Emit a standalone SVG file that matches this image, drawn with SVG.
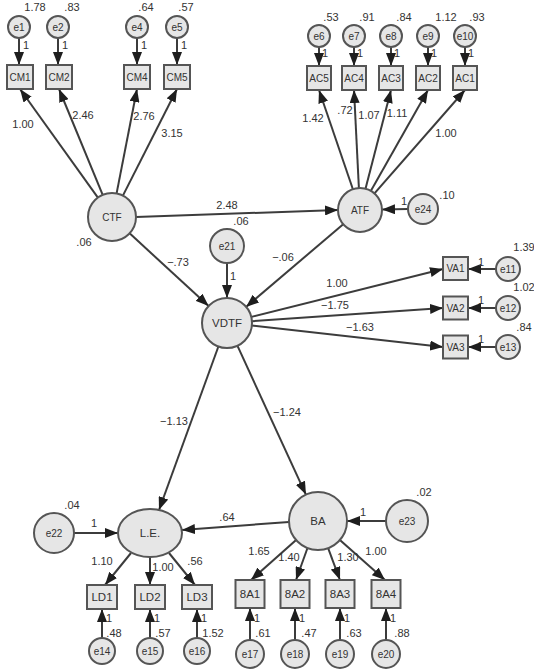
<svg xmlns="http://www.w3.org/2000/svg" width="534" height="671" viewBox="0 0 534 671">
<style>
.n{fill:#e6e6e6;stroke:#555;stroke-width:2}
.t{font-family:"Liberation Sans",Arial,sans-serif;font-size:10px;fill:#333;text-anchor:middle}
.big{font-size:11.5px}
.l{font-family:"Liberation Sans",Arial,sans-serif;font-size:11px;fill:#333;text-anchor:middle}
.c line{stroke:#3c3c3c;stroke-width:2;marker-end:url(#ah)}
</style>
<defs>
<marker id="ah" markerUnits="userSpaceOnUse" markerWidth="13" markerHeight="10" refX="13" refY="5" orient="auto"><path d="M0,0 L13,5 L0,10 z" fill="#1e1e1e"/></marker>
</defs>
<rect width="534" height="671" fill="#fff"/>

<g id="connectors" class="c">
<!-- e -> CM -->
<line x1="19" y1="38" x2="19" y2="65"/>
<line x1="58" y1="38" x2="58" y2="65"/>
<line x1="137" y1="38" x2="137" y2="65"/>
<line x1="177" y1="38" x2="177" y2="65"/>
<!-- CTF -> CM -->
<line x1="97.9" y1="197.6" x2="20" y2="89"/>
<line x1="102.7" y1="194.9" x2="59" y2="89"/>
<line x1="116.6" y1="193.4" x2="137" y2="89"/>
<line x1="122.9" y1="195.6" x2="177" y2="89"/>
<!-- e -> AC -->
<line x1="319" y1="47" x2="319" y2="66"/>
<line x1="354" y1="47" x2="354" y2="66"/>
<line x1="391" y1="47" x2="391" y2="66"/>
<line x1="428" y1="47" x2="428" y2="66"/>
<line x1="465" y1="47" x2="465" y2="66"/>
<!-- ATF -> AC -->
<line x1="352.9" y1="189.2" x2="319" y2="90"/>
<line x1="358.9" y1="188" x2="354" y2="90"/>
<line x1="365.5" y1="188.7" x2="391" y2="90"/>
<line x1="370.8" y1="190.9" x2="428" y2="90"/>
<line x1="374.5" y1="193.4" x2="465" y2="90"/>
<!-- CTF -> ATF, e24 -> ATF -->
<line x1="136" y1="217" x2="338" y2="210"/>
<line x1="408" y1="209" x2="382" y2="209.5"/>
<!-- to VDTF -->
<line x1="129.6" y1="233.3" x2="208.6" y2="306.1"/>
<line x1="343.2" y1="224.2" x2="246" y2="307"/>
<line x1="227" y1="263" x2="227" y2="298"/>
<!-- VDTF -> VA -->
<line x1="251.3" y1="316.9" x2="443" y2="269"/>
<line x1="251.9" y1="321.2" x2="443" y2="308"/>
<line x1="251.9" y1="325.6" x2="443" y2="347"/>
<!-- e -> VA -->
<line x1="496" y1="269" x2="468" y2="269"/>
<line x1="496" y1="308" x2="468" y2="308"/>
<line x1="496" y1="347" x2="468" y2="347"/>
<!-- VDTF -> L.E., BA -->
<line x1="218.4" y1="346.5" x2="159" y2="510"/>
<line x1="237.4" y1="345.7" x2="305.9" y2="494.6"/>
<!-- e22 -> L.E., BA -> L.E., e23 -> BA -->
<line x1="74" y1="533" x2="118" y2="533"/>
<line x1="289" y1="522" x2="182" y2="530"/>
<line x1="386" y1="521" x2="347" y2="521"/>
<!-- L.E. -> LD -->
<line x1="131" y1="553" x2="105" y2="585"/>
<line x1="150" y1="557" x2="150" y2="585"/>
<line x1="169" y1="553" x2="195" y2="585"/>
<!-- BA -> 8A -->
<line x1="296.1" y1="540" x2="251" y2="580"/>
<line x1="307.5" y1="548" x2="296" y2="580"/>
<line x1="328.1" y1="548.2" x2="340" y2="580"/>
<line x1="339.9" y1="540" x2="385" y2="580"/>
<!-- e -> LD -->
<line x1="102" y1="638" x2="102" y2="609"/>
<line x1="150" y1="638" x2="150" y2="609"/>
<line x1="197" y1="638" x2="197" y2="609"/>
<!-- e -> 8A -->
<line x1="250" y1="640" x2="250" y2="608"/>
<line x1="295" y1="640" x2="295" y2="608"/>
<line x1="340" y1="640" x2="340" y2="608"/>
<line x1="386" y1="640" x2="386" y2="608"/>
</g>

<g id="labels" class="l">
<text x="35" y="11">1.78</text><text x="72" y="11">.83</text><text x="146" y="11">.64</text><text x="186" y="11">.57</text>
<text x="26" y="49">1</text><text x="65" y="49">1</text><text x="144" y="49">1</text><text x="184" y="49">1</text>
<text x="23" y="128">1.00</text><text x="83" y="119">2.46</text><text x="144" y="120">2.76</text><text x="172" y="137">3.15</text>
<text x="331" y="21">.53</text><text x="367" y="21">.91</text><text x="404" y="21">.84</text><text x="446" y="21">1.12</text><text x="477" y="21">.93</text>
<text x="325" y="57">1</text><text x="360" y="57">1</text><text x="397" y="57">1</text><text x="434" y="57">1</text><text x="471" y="57">1</text>
<text x="313" y="122">1.42</text><text x="345" y="114">.72</text><text x="369" y="119">1.07</text><text x="397" y="117">1.11</text><text x="446" y="137">1.00</text>
<text x="227" y="209">2.48</text><text x="241" y="225">.06</text><text x="84" y="246">.06</text>
<text x="178" y="266">−.73</text><text x="233" y="280">1</text>
<text x="447" y="199">.10</text><text x="404" y="205">1</text><text x="283" y="261">−.06</text>
<text x="337" y="287">1.00</text><text x="335" y="309">−1.75</text><text x="360" y="331">−1.63</text>
<text x="481" y="266">1</text><text x="481" y="304">1</text><text x="481" y="343">1</text>
<text x="524" y="251">1.39</text><text x="524" y="291">1.02</text><text x="524" y="331">.84</text>
<text x="174" y="425">−1.13</text><text x="287" y="416">−1.24</text>
<text x="72" y="509">.04</text><text x="94" y="527">1</text><text x="227" y="521">.64</text>
<text x="424" y="496">.02</text><text x="363" y="516">1</text>
<text x="102" y="565">1.10</text><text x="163" y="571">1.00</text><text x="195" y="565">.56</text>
<text x="259" y="555">1.65</text><text x="289" y="561">1.40</text><text x="348" y="561">1.30</text><text x="376" y="555">1.00</text>
<text x="109" y="622">1</text><text x="157" y="622">1</text><text x="204" y="622">1</text>
<text x="257" y="622">1</text><text x="302" y="622">1</text><text x="347" y="622">1</text><text x="393" y="622">1</text>
<text x="114" y="637">.48</text><text x="163" y="637">.57</text><text x="213" y="637">1.52</text>
<text x="263" y="637">.61</text><text x="309" y="637">.47</text><text x="354" y="637">.63</text><text x="402" y="637">.88</text>
</g>

<g id="e1"><circle class="n" cx="19" cy="27" r="11"/><text class="t" x="19" y="30.5">e1</text></g>
<g id="e2"><circle class="n" cx="58" cy="27" r="11"/><text class="t" x="58" y="30.5">e2</text></g>
<g id="e4"><circle class="n" cx="137" cy="27" r="11"/><text class="t" x="137" y="30.5">e4</text></g>
<g id="e5"><circle class="n" cx="177" cy="27" r="11"/><text class="t" x="177" y="30.5">e5</text></g>
<g id="CM1"><rect class="n" x="7" y="65" width="26" height="24"/><text class="t" x="20" y="80.5">CM1</text></g>
<g id="CM2"><rect class="n" x="46" y="65" width="26" height="24"/><text class="t" x="59" y="80.5">CM2</text></g>
<g id="CM4"><rect class="n" x="124" y="65" width="26" height="24"/><text class="t" x="137" y="80.5">CM4</text></g>
<g id="CM5"><rect class="n" x="164" y="65" width="26" height="24"/><text class="t" x="177" y="80.5">CM5</text></g>

<g id="e6"><circle class="n" cx="319" cy="36" r="11"/><text class="t" x="319" y="39.5">e6</text></g>
<g id="e7"><circle class="n" cx="354" cy="36" r="11"/><text class="t" x="354" y="39.5">e7</text></g>
<g id="e8"><circle class="n" cx="391" cy="36" r="11"/><text class="t" x="391" y="39.5">e8</text></g>
<g id="e9"><circle class="n" cx="428" cy="36" r="11"/><text class="t" x="428" y="39.5">e9</text></g>
<g id="e10"><circle class="n" cx="465" cy="36" r="11"/><text class="t" x="465" y="39.5">e10</text></g>
<g id="AC5"><rect class="n" x="307" y="66" width="24" height="24"/><text class="t" x="319" y="81.5">AC5</text></g>
<g id="AC4"><rect class="n" x="342" y="66" width="24" height="24"/><text class="t" x="354" y="81.5">AC4</text></g>
<g id="AC3"><rect class="n" x="379" y="66" width="24" height="24"/><text class="t" x="391" y="81.5">AC3</text></g>
<g id="AC2"><rect class="n" x="416" y="66" width="24" height="24"/><text class="t" x="428" y="81.5">AC2</text></g>
<g id="AC1"><rect class="n" x="453" y="66" width="24" height="24"/><text class="t" x="465" y="81.5">AC1</text></g>

<g id="CTF"><circle class="n" cx="112" cy="217" r="24"/><text class="t" x="112" y="220.5">CTF</text></g>
<g id="ATF"><circle class="n" cx="360" cy="210" r="22"/><text class="t" x="360" y="213.5">ATF</text></g>
<g id="e24"><circle class="n" cx="423" cy="209" r="15"/><text class="t" x="423" y="212.5">e24</text></g>
<g id="e21"><circle class="n" cx="227" cy="246" r="17"/><text class="t" x="227" y="249.5">e21</text></g>
<g id="VDTF"><circle class="n" cx="227" cy="323" r="25"/><text class="t big" x="227" y="327">VDTF</text></g>

<g id="VA1"><rect class="n" x="443" y="257" width="25" height="23"/><text class="t" x="455.5" y="272">VA1</text></g>
<g id="VA2"><rect class="n" x="443" y="296.5" width="25" height="23"/><text class="t" x="455.5" y="311.5">VA2</text></g>
<g id="VA3"><rect class="n" x="443" y="335.5" width="25" height="23"/><text class="t" x="455.5" y="350.5">VA3</text></g>
<g id="e11"><circle class="n" cx="508" cy="269" r="12"/><text class="t" x="508" y="272.5">e11</text></g>
<g id="e12"><circle class="n" cx="508" cy="308" r="12"/><text class="t" x="508" y="311.5">e12</text></g>
<g id="e13"><circle class="n" cx="508" cy="347" r="12"/><text class="t" x="508" y="350.5">e13</text></g>

<g id="e22"><circle class="n" cx="54" cy="533" r="20"/><text class="t" x="54" y="536.5">e22</text></g>
<g id="LE"><ellipse class="n" cx="150" cy="533" rx="32" ry="24"/><text class="t big" x="150" y="537">L.E.</text></g>
<g id="BA"><circle class="n" cx="318" cy="521" r="29"/><text class="t big" x="318" y="525">BA</text></g>
<g id="e23"><circle class="n" cx="407" cy="521" r="21"/><text class="t" x="407" y="524.5">e23</text></g>

<g id="LD1"><rect class="n" x="87" y="585" width="30" height="24"/><text class="t big" x="102" y="601">LD1</text></g>
<g id="LD2"><rect class="n" x="135" y="585" width="30" height="24"/><text class="t big" x="150" y="601">LD2</text></g>
<g id="LD3"><rect class="n" x="182" y="585" width="30" height="24"/><text class="t big" x="197" y="601">LD3</text></g>
<g id="8A1"><rect class="n" x="235.5" y="580" width="29" height="28"/><text class="t big" x="250" y="598">8A1</text></g>
<g id="8A2"><rect class="n" x="280.5" y="580" width="29" height="28"/><text class="t big" x="295" y="598">8A2</text></g>
<g id="8A3"><rect class="n" x="325.5" y="580" width="29" height="28"/><text class="t big" x="340" y="598">8A3</text></g>
<g id="8A4"><rect class="n" x="371.5" y="580" width="29" height="28"/><text class="t big" x="386" y="598">8A4</text></g>
<g id="e14"><circle class="n" cx="102" cy="651" r="13"/><text class="t" x="102" y="654.5">e14</text></g>
<g id="e15"><circle class="n" cx="150" cy="651" r="13"/><text class="t" x="150" y="654.5">e15</text></g>
<g id="e16"><circle class="n" cx="197" cy="651" r="13"/><text class="t" x="197" y="654.5">e16</text></g>
<g id="e17"><circle class="n" cx="250" cy="654" r="14"/><text class="t" x="250" y="657.5">e17</text></g>
<g id="e18"><circle class="n" cx="295" cy="654" r="14"/><text class="t" x="295" y="657.5">e18</text></g>
<g id="e19"><circle class="n" cx="340" cy="654" r="14"/><text class="t" x="340" y="657.5">e19</text></g>
<g id="e20"><circle class="n" cx="386" cy="654" r="14"/><text class="t" x="386" y="657.5">e20</text></g>
</svg>
